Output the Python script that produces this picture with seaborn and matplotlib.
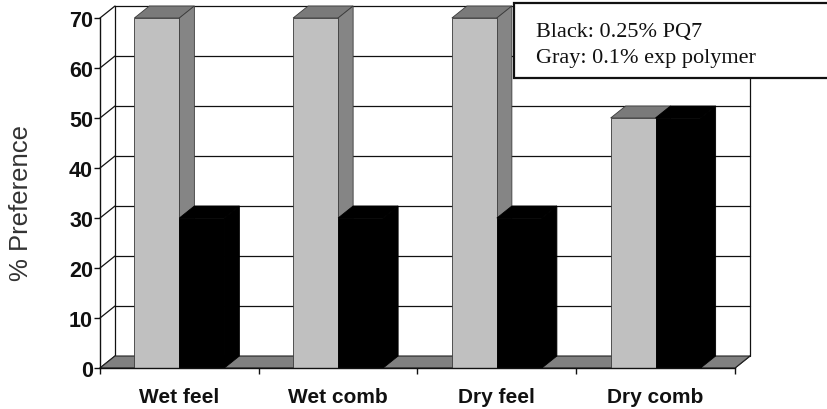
import matplotlib
matplotlib.use("Agg")
import matplotlib.pyplot as plt
import numpy as np
import pandas as pd
import seaborn as sns
from matplotlib.patches import Polygon, Rectangle
from matplotlib.lines import Line2D

# Data
categories = ["Wet feel", "Wet comb", "Dry feel", "Dry comb"]
gray_values = [70, 70, 70, 50]
black_values = [30, 30, 30, 50]
series_names = ["Gray", "Black"]
yticks = [0, 10, 20, 30, 40, 50, 60, 70]
legend_lines = ["Black: 0.25% PQ7", "Gray: 0.1% exp polymer"]

df = pd.DataFrame({
    "Treatment": categories * 2,
    "Preference": gray_values + black_values,
    "Series": [series_names[0]] * len(categories) + [series_names[1]] * len(categories),
})

sns.set_theme(style="white")
plt.rcParams["font.family"] = ["Liberation Sans", "DejaVu Sans"]

W, H = 828, 410
fig = plt.figure(figsize=(W / 100, H / 100), dpi=100)
ax = fig.add_axes([100 / W, 41 / H, 635 / W, 350 / H])

face = {"Gray": "#c0c0c0", "Black": "#000000"}
top_col = {"Gray": "#7a7a7a", "Black": "#000000"}
side_col = {"Gray": "#858585", "Black": "#000000"}
edge_col = {"Gray": "#3a3a3a", "Black": "#000000"}

sns.barplot(data=df, x="Treatment", y="Preference", hue="Series",
            hue_order=series_names, palette=face, width=0.567, gap=0,
            saturation=1, legend=False, ax=ax, edgecolor="none")

ax.set_xlim(-0.5, 3.5)
ax.set_ylim(0, 70)

# depth of the 3D look in data units
DX, DY = 0.0945, 2.4
x0, x1 = -0.5, 3.5
wall_kw = dict(color="#111111", lw=0.9, clip_on=False, zorder=1)

# back wall, gridlines and connectors to the front axis
for t in yticks:
    if t > 0:
        ax.add_line(Line2D([x0 + DX, x1 + DX], [t + DY, t + DY], **wall_kw))
    ax.add_line(Line2D([x0, x0 + DX], [t, t + DY], **wall_kw))
ax.add_line(Line2D([x0 + DX, x0 + DX], [DY, 70 + DY], **wall_kw))
ax.add_line(Line2D([x1 + DX, x1 + DX], [DY, 70 + DY], **wall_kw))
ax.add_line(Line2D([x1, x1 + DX], [0, DY], **wall_kw))

# floor
ax.add_patch(Polygon([(x0, 0), (x1, 0), (x1 + DX, DY), (x0 + DX, DY)],
                     closed=True, facecolor="#808080", edgecolor="#222222",
                     lw=0.8, clip_on=False, zorder=2))

# bars: front face from seaborn, top and side faces added on each
for i, (name, cont) in enumerate(zip(series_names, ax.containers)):
    z = 3 + i
    for bar in cont:
        bx, bw, bh = bar.get_x(), bar.get_width(), bar.get_height()
        bar.set_zorder(z + 0.2)
        bar.set_edgecolor(edge_col[name])
        bar.set_linewidth(0.6)
        ax.add_patch(Polygon([(bx, bh), (bx + DX, bh + DY), (bx + bw + DX, bh + DY), (bx + bw, bh)],
                             closed=True, facecolor=top_col[name], edgecolor=edge_col[name],
                             lw=0.6, clip_on=False, zorder=z))
        ax.add_patch(Polygon([(bx + bw, 0), (bx + bw, bh), (bx + bw + DX, bh + DY), (bx + bw + DX, DY)],
                             closed=True, facecolor=side_col[name], edgecolor=edge_col[name],
                             lw=0.6, clip_on=False, zorder=z))

# axes styling
for s in ["top", "right"]:
    ax.spines[s].set_visible(False)
for s in ["left", "bottom"]:
    ax.spines[s].set_color("#111111")
    ax.spines[s].set_linewidth(1.0)
    ax.spines[s].set_zorder(6)

ax.set_yticks(yticks)
ax.set_yticklabels([str(t) for t in yticks], fontsize=15.5, fontweight="bold",
                   color="#111111")
ax.set_xticks(np.arange(-0.5, 4.0, 1.0))
ax.set_xticklabels([""] * 5)
ax.set_xticks(np.arange(len(categories)), minor=True)
ax.set_xticklabels(categories, minor=True, fontsize=15, fontweight="bold",
                   color="#111111")
ax.tick_params(axis="y", direction="out", length=4, width=1, color="#111111", pad=1, left=True)
ax.tick_params(axis="x", which="major", direction="out", length=4, width=1, color="#111111", bottom=True)
ax.tick_params(axis="x", which="minor", length=0, pad=14)
ax.set_xlabel("")
ax.set_ylabel("")

fig.text(21 / W, 1 - 203 / H, "% Preference", rotation=90, ha="center", va="center",
         fontsize=18.5, color="#333333")

# legend note box
fig.add_artist(Rectangle((514 / W, 1 - 79 / H), 420 / W, 75 / H, transform=fig.transFigure,
                         facecolor="white", edgecolor="#111111", lw=1.6, clip_on=False))
for k, line in enumerate(legend_lines):
    fig.text(536 / W, 1 - (37 + 26 * k) / H, line, ha="left", va="baseline",
             fontsize=16, family="Liberation Serif", color="#111111", zorder=5)

fig.savefig("out.png", dpi=100)
